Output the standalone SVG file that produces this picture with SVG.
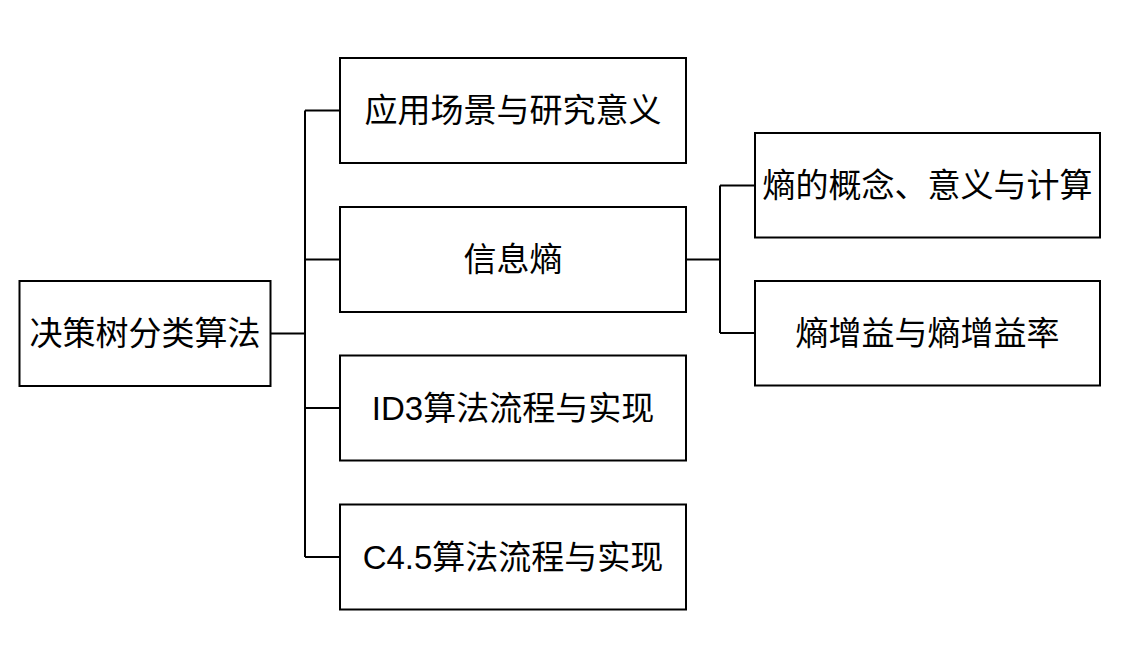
<svg xmlns="http://www.w3.org/2000/svg" width="1122" height="668" viewBox="0 0 1122 668">
<style>
.box{fill:#fff;stroke:#000;stroke-width:2}
.lbl{font-family:"Liberation Sans","Noto Sans CJK SC",sans-serif;font-size:33px;fill:#000;text-anchor:middle;dominant-baseline:central}
.con{fill:none;stroke:#000;stroke-width:2}
</style>
<rect width="1122" height="668" fill="#fff"/>
<g id="connectors">
<path class="con" d="M271 333.5H305M305 110.5V557M305 110.5H340M305 259.5H340M305 408H340M305 557H340"/>
<path class="con" d="M686 259.5H720M720 185.5V333M720 185.5H755M720 333H755"/>
</g>
<g id="n-root"><rect class="box" x="19.5" y="281" width="251" height="105"/><text class="lbl" x="145" y="333.5">决策树分类算法</text></g>
<g id="n-app"><rect class="box" x="340" y="58" width="346" height="105"/><text class="lbl" x="513" y="110.5">应用场景与研究意义</text></g>
<g id="n-entropy"><rect class="box" x="340" y="207" width="346" height="105"/><text class="lbl" x="513" y="259.5">信息熵</text></g>
<g id="n-id3"><rect class="box" x="340" y="355.5" width="346" height="105"/><text class="lbl" x="513" y="408">ID3算法流程与实现</text></g>
<g id="n-c45"><rect class="box" x="340" y="504.5" width="346" height="105"/><text class="lbl" x="513" y="557">C4.5算法流程与实现</text></g>
<g id="n-concept"><rect class="box" x="755" y="133" width="345" height="104.5"/><text class="lbl" x="927.5" y="185.5">熵的概念、意义与计算</text></g>
<g id="n-gain"><rect class="box" x="755" y="281" width="345" height="104.5"/><text class="lbl" x="927.5" y="333.5">熵增益与熵增益率</text></g>
</svg>
